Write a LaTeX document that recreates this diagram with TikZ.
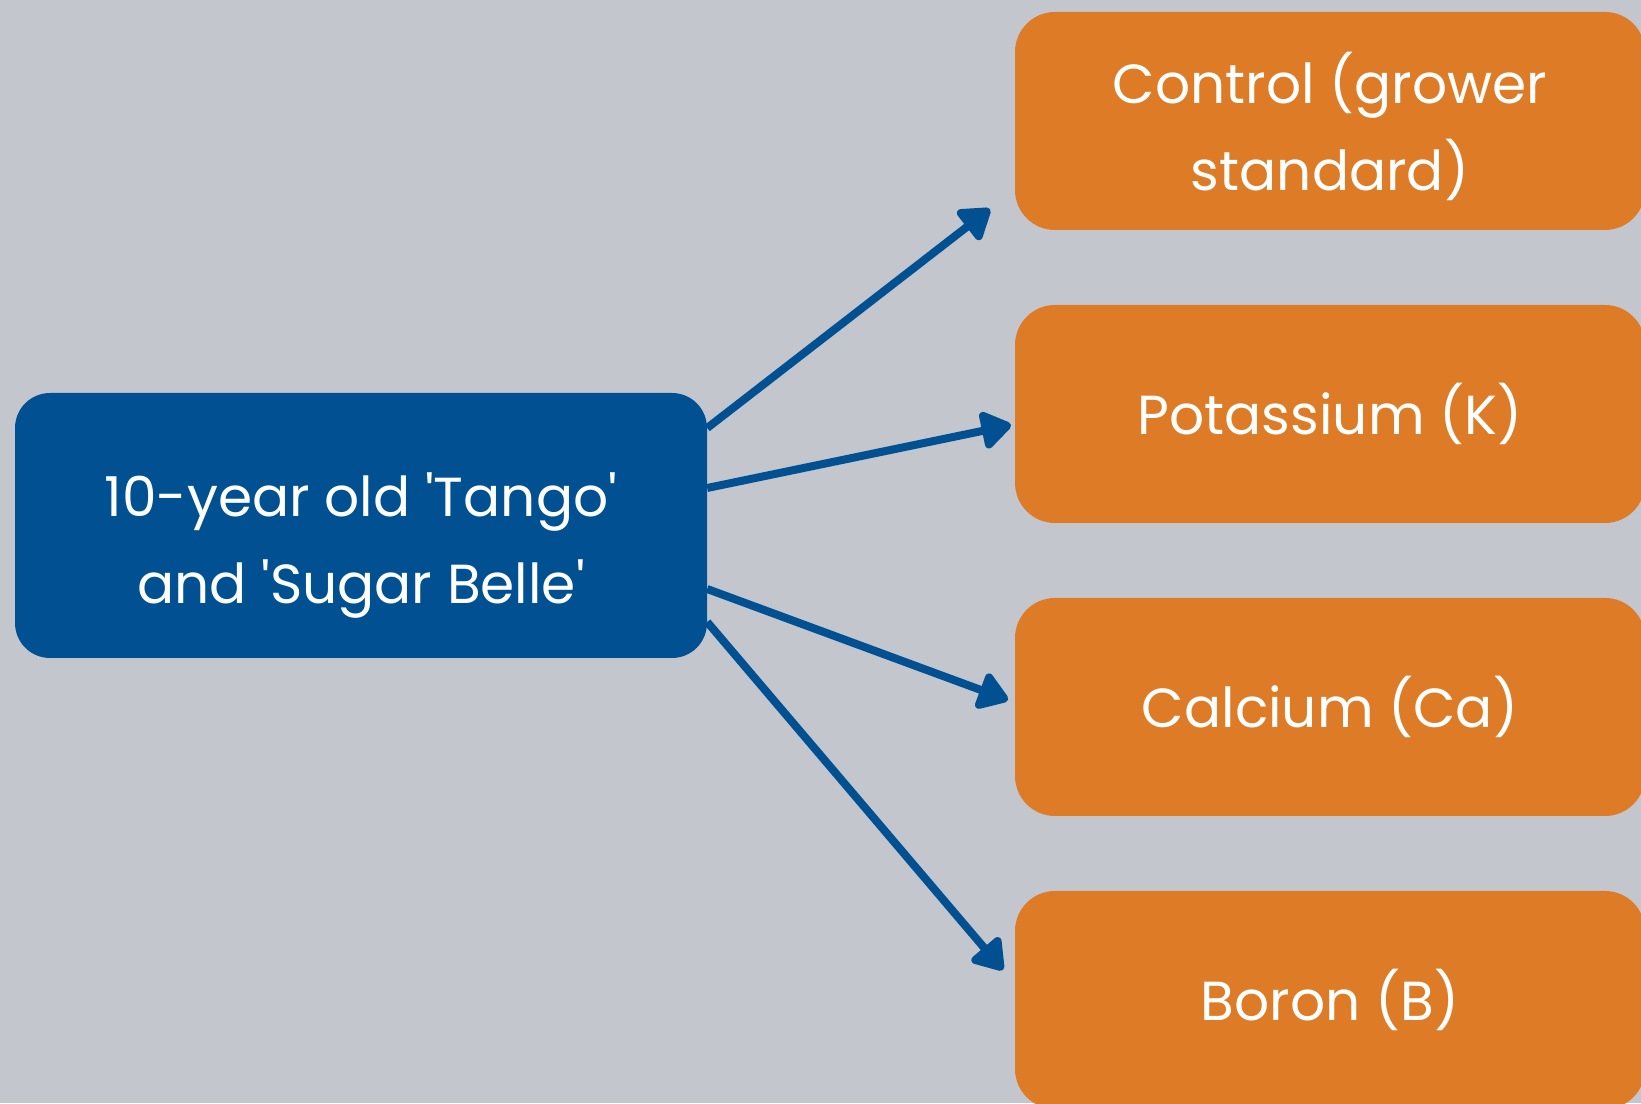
\documentclass[tikz,border=0pt]{standalone}
\usepackage{fontspec}
\setmainfont{Poppins}
\usetikzlibrary{shapes,arrows.meta}
\definecolor{bggrey}{HTML}{C3C6CD}
\definecolor{cropblue}{HTML}{015192}
\definecolor{treatorange}{HTML}{DE7B26}
\tikzstyle{source} = [fill=cropblue, rectangle, rounded corners=35pt,
minimum height=265pt, minimum width=692pt, text=white, align=center]
\tikzstyle{treat} = [fill=treatorange, rectangle, rounded corners=40pt,
minimum height=218pt, minimum width=630pt, text=white, align=center]
\tikzstyle{link} = [draw=cropblue, line width=8pt,
-{Triangle[round, length=33pt, width=42pt]}]

\begin{document}
\begin{tikzpicture}[x=1pt, y=1pt, node distance=293pt,
	font=\fontsize{55}{87}\selectfont]

	\fill [bggrey] (0,0) rectangle (1641,1103);
	\useasboundingbox (0,0) rectangle (1641,1103);

	\node [source, text height=170pt] (trees) at (361,577.5)
		{10-year old \textquotesingle Tango\textquotesingle\\and \textquotesingle Sugar Belle\textquotesingle};
	\node [treat, text height=150pt] (control) at (1330,982) {Control (grower\\standard)};
	\node [treat, below of=control] (potassium) {Potassium (K)};
	\node [treat, below of=potassium] (calcium) {Calcium (Ca)};
	\node [treat, below of=calcium] (boron) {Boron (B)};

	\coordinate (tip1) at (990,894);
	\coordinate (tip2) at (1011,678);
	\coordinate (tip3) at (1008,403);
	\coordinate (tip4) at (1003,133);

	\draw [link] ([yshift=97.5pt]trees.east) -- (tip1);
	\draw [link] ([yshift=37.5pt]trees.east) -- (tip2);
	\draw [link] ([yshift=-63.5pt]trees.east) -- (tip3);
	\draw [link] ([yshift=-96.5pt]trees.east) -- (tip4);

\end{tikzpicture}
\end{document}
